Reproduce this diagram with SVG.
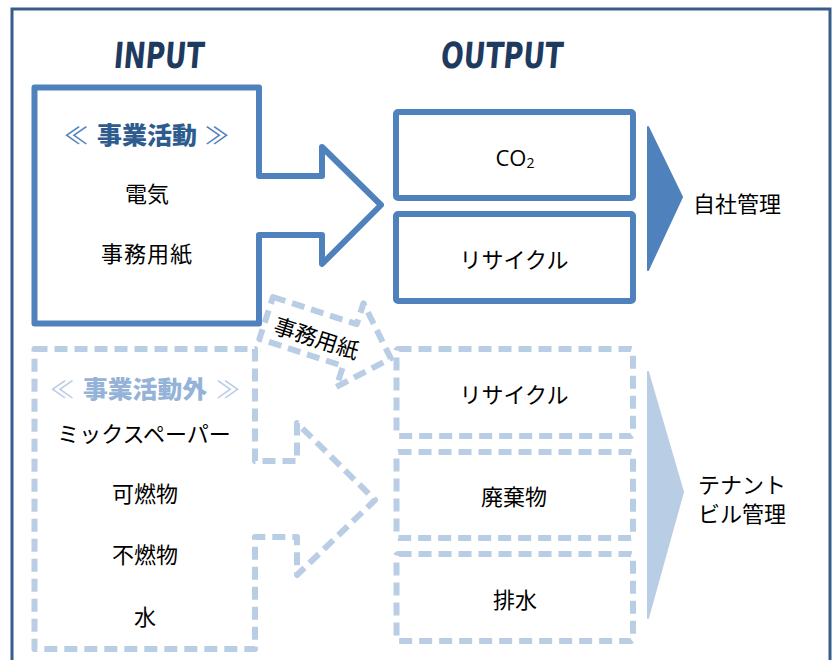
<svg xmlns="http://www.w3.org/2000/svg" width="833" height="660" viewBox="0 0 833 660">
<style>
.jp{font-family:"Noto Sans CJK JP","Noto Sans",sans-serif;font-size:22px;fill:#000;text-anchor:middle;dominant-baseline:central}
.hd{font-family:"DejaVu Sans Condensed","DejaVu Sans",sans-serif;font-weight:bold;font-size:36px;fill:#1F3A5F}
.solid{fill:#fff;stroke:#4F81BD;stroke-width:6;stroke-linejoin:round}
.dash{fill:#fff;stroke:#B9CDE5;stroke-width:6;stroke-dasharray:13 7;stroke-linejoin:round}
.br{font-family:"Noto Sans CJK JP","DejaVu Sans",sans-serif;font-size:24px;text-anchor:middle;dominant-baseline:central}
.sh{font-family:"Noto Sans CJK JP","Noto Sans",sans-serif;font-size:24px;font-weight:900;text-anchor:middle;dominant-baseline:central}
</style>
<rect x="0" y="0" width="833" height="660" fill="#fff"/>
<g id="frame"><rect x="12" y="9" width="818" height="660" fill="none" stroke="#385D8A" stroke-width="3"/></g>
<g id="headings">
<text class="hd" x="113" y="68" textLength="90" lengthAdjust="spacingAndGlyphs" transform="translate(6,0) skewX(-5)">INPUT</text>
<text class="hd" x="440" y="68" textLength="122" lengthAdjust="spacingAndGlyphs" transform="translate(6,0) skewX(-5)">OUTPUT</text>
</g>
<g id="input-main">
<path class="solid" d="M34.5,87.5 H259 V176 H322 V147 L381,205 L322,264 V235 H259 V323.5 H34.5 Z"/>
<text class="br" x="76" y="133" fill="#4F81BD">≪</text>
<text class="sh" x="147" y="133" fill="#2E5C8F" textLength="100" lengthAdjust="spacingAndGlyphs">事業活動</text>
<text class="br" x="217" y="133" fill="#4F81BD">≫</text>
<text class="jp" x="147" y="192" font-size="23">電気</text>
<text class="jp" x="147" y="252" font-size="23" letter-spacing="1">事務用紙</text>
</g>
<g id="out-co2">
<rect class="solid" x="396" y="112" width="237" height="86" rx="2"/>
<text x="515" y="157" font-family="'Open Sans','Noto Sans',sans-serif" font-size="22" text-anchor="middle" dominant-baseline="central" fill="#000">CO<tspan font-size="14" dy="5">2</tspan></text>
</g>
<g id="out-recycle1">
<rect class="solid" x="396" y="214" width="237" height="87" rx="2"/>
<text class="jp" x="514" y="258">リサイクル</text>
</g>
<g id="self-manage">
<path d="M648,127 L682,197 L648,270 Z" fill="#4F81BD" stroke="#4F81BD" stroke-width="2" stroke-linejoin="round"/>
<text class="jp" x="693" y="202" font-size="23" style="text-anchor:start">自社管理</text>
</g>
<g id="input-other">
<path class="dash" d="M34.5,349 H255 V461 H297 V423 L375,500 L297,575 V537 H255 V649 H34.5 Z"/>
<text class="br" x="62" y="387" fill="#B9CDE5">≪</text>
<text class="sh" x="145" y="387" fill="#95B3D7" textLength="124" lengthAdjust="spacingAndGlyphs">事業活動外</text>
<text class="br" x="228" y="387" fill="#B9CDE5">≫</text>
<text class="jp" x="144" y="432">ミックスペーパー</text>
<text class="jp" x="145" y="492">可燃物</text>
<text class="jp" x="145" y="553">不燃物</text>
<text class="jp" x="145" y="615">水</text>
</g>
<g id="connectors">
<g id="paper-arrow" transform="translate(273,297) rotate(18)">
<path class="dash" stroke-width="5" d="M0,0 H88 V-22 L131,22 L88,66 V44 H0 Z"/>
<text class="jp" x="54" y="24" font-size="19">事務用紙</text>
</g>
</g>
<g id="out-recycle2">
<rect class="dash" x="396.5" y="349" width="236.5" height="87" rx="2"/>
<text class="jp" x="514" y="393">リサイクル</text>
</g>
<g id="out-waste">
<rect class="dash" x="396.5" y="452" width="236.5" height="86" rx="2"/>
<text class="jp" x="514" y="495">廃棄物</text>
</g>
<g id="out-drain">
<rect class="dash" x="396.5" y="554" width="236.5" height="87" rx="2"/>
<text class="jp" x="515" y="598">排水</text>
</g>
<g id="tenant-manage">
<path d="M648,372 L683,492 L648,618 Z" fill="#B9CDE5" stroke="#B9CDE5" stroke-width="2" stroke-linejoin="round"/>
<text class="jp" x="698" y="483" font-size="23" style="text-anchor:start">テナント</text>
<text class="jp" x="698" y="512" font-size="23" style="text-anchor:start">ビル管理</text>
</g>
</svg>
